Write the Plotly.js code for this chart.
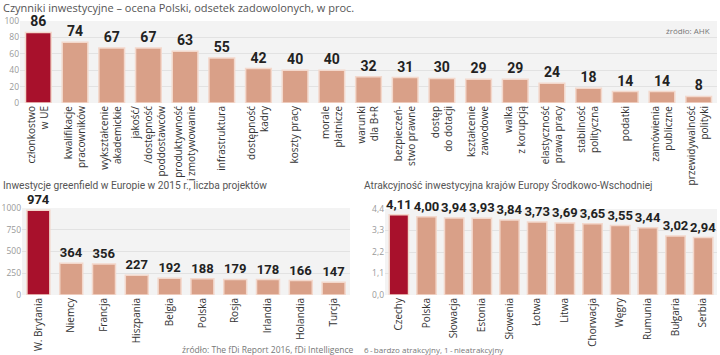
<!DOCTYPE html>
<html><head><meta charset="utf-8">
<script src="https://cdn.plot.ly/plotly-3.0.1.min.js"></script>
<style>html,body{margin:0;padding:0;background:#fff;}#c{width:720px;height:355px;}</style>
</head><body><div id="c"></div>
<script>
// Top chart: investment factors, % satisfied
const factorLabels = ["członkostwo<br>w UE","kwalifikacje<br>pracowników","wykształcenie<br>akademickie","jakość/<br>/dostępność<br>poddostawców","produktywność<br>i zmotywowanie","infrastruktura","dostępność<br>kadry","koszty pracy","morale<br>płatnicze","warunki<br>dla B+R","bezpieczeń-<br>stwo prawne","dostęp<br>do dotacji","kształcenie<br>zawodowe","walka<br>z korupcją","elastyczność<br>prawa pracy","stabilność<br>polityczna","podatki","zamówienia<br>publiczne","przewidywalność<br>polityki"];
const factorValues = [86,74,67,67,63,55,42,40,40,32,31,30,29,29,24,18,14,14,8];

// Bottom-left: greenfield investments 2015
const gfCountries = ["W. Brytania","Niemcy","Francja","Hiszpania","Belgia","Polska","Rosja","Irlandia","Holandia","Turcja"];
const gfValues = [974,364,356,227,192,188,179,178,166,147];

// Bottom-right: attractiveness CEE
const ceeCountries = ["Czechy","Polska","Słowacja","Estonia","Słowenia","Łotwa","Litwa","Chorwacja","Węgry","Rumunia","Bułgaria","Serbia"];
const ceeValues = [4.11,4.00,3.94,3.93,3.84,3.73,3.69,3.65,3.55,3.44,3.02,2.94];

const RED = '#a8112c', SAL = '#d9a088', EDGE = '#f3d8cc';
const colors = a => a.map((v,i)=> i===0 ? RED : SAL);
const valFont = (s) => ({family:'Roboto, sans-serif', size:s, color:'#222', weight:700});
const W=720, H=355;
const px = x => x/W, py = y => 1 - y/H;

function barTrace(x, y, xa, ya, tmpl, fs){
  return {type:'bar', x:x, y:y, xaxis:xa, yaxis:ya,
    marker:{color:colors(y), line:{color:EDGE, width:1.5}},
    width:0.7, text:y.map(String), texttemplate:tmpl, textposition:'outside',
    textfont:valFont(fs), constraintext:'none', cliponaxis:false, hoverinfo:'none'};
}

const traces = [
  barTrace(factorLabels, factorValues, 'x', 'y', '%{y}', 14),
  barTrace(gfCountries, gfValues, 'x2', 'y2', '%{y}', 13),
  barTrace(ceeCountries, ceeValues, 'x3', 'y3', '%{y:.2f}', 13)
];

const tickF = {family:'Open Sans, sans-serif', size:10, color:'#333'};
const yTickF = {family:'Open Sans, sans-serif', size:8.5, color:'#999'};
const xax = (d) => ({domain:d, tickangle:-90, tickfont:tickF, showgrid:false, zeroline:false, showline:false, ticks:'', fixedrange:true, automargin:false, ticklen:0});
const yax = (d, r, tv, fmt) => ({domain:d, range:r, tickvals:tv, tickformat:fmt, tickfont:yTickF, gridcolor:'#e2e2e2', gridwidth:1, zeroline:false, showline:false, ticks:'', ticklen:0, automargin:false, fixedrange:true});

const titleF = {family:'Open Sans, sans-serif', size:11, color:'#555'};
const noteF = {family:'Open Sans, sans-serif', size:8.5, color:'#777'};

const layout = {
  width:W, height:H, margin:{l:0,r:0,t:0,b:0}, autosize:false,
  paper_bgcolor:'#fff', plot_bgcolor:'#f3f3f3', showlegend:false,
  separators:', ', font:{family:'Open Sans, sans-serif'},
  xaxis: xax([px(20), px(717)]),
  yaxis: Object.assign(yax([py(103), py(21)], [0,100], [0,20,40,60,80,100], 'd'), {anchor:'x'}),
  xaxis2: Object.assign(xax([px(22), px(350)]), {anchor:'y2'}),
  yaxis2: Object.assign(yax([py(295), py(208)], [0,1000], [0,250,500,750,1000], 'd'), {anchor:'x2'}),
  xaxis3: Object.assign(xax([px(385), px(717)]), {anchor:'y3'}),
  yaxis3: Object.assign(yax([py(295), py(209)], [0,4.4], [0,1.1,2.2,3.3,4.4], '.1f'), {anchor:'x3'}),
  annotations:[
    {text:'Czynniki inwestycyjne – ocena Polski, odsetek zadowolonych, w proc.', xref:'paper', yref:'paper', x:px(1), y:py(8), xanchor:'left', yanchor:'middle', showarrow:false, font:titleF},
    {text:'źródło: AHK', xref:'paper', yref:'paper', x:px(712), y:py(30), xanchor:'right', yanchor:'middle', showarrow:false, font:{family:'Open Sans, sans-serif', size:8, color:'#777'}},
    {text:'Inwestycje greenfield w Europie w 2015 r., liczba projektów', xref:'paper', yref:'paper', x:px(1), y:py(185), xanchor:'left', yanchor:'middle', showarrow:false, font:{family:'Roboto, sans-serif', size:10.2, color:'#555'}},
    {text:'Atrakcyjność inwestycyjna krajów Europy Środkowo-Wschodniej', xref:'paper', yref:'paper', x:px(362), y:py(185), xanchor:'left', yanchor:'middle', showarrow:false, font:{family:'Roboto, sans-serif', size:10.2, color:'#555'}},
    {text:'źródło: The fDi Report 2016, fDi Intelligence', xref:'paper', yref:'paper', x:px(356), y:py(349), xanchor:'right', yanchor:'middle', showarrow:false, font:noteF},
    {text:'6\u2009-\u2009bardzo atrakcyjny, 1\u2009-\u2009nieatrakcyjny', xref:'paper', yref:'paper', x:px(362), y:py(349), xanchor:'left', yanchor:'middle', showarrow:false, font:{family:'Open Sans, sans-serif', size:8, color:'#777'}}
  ]
};

Plotly.newPlot('c', traces, layout, {displayModeBar:false, staticPlot:true});
</script>
</body></html>
